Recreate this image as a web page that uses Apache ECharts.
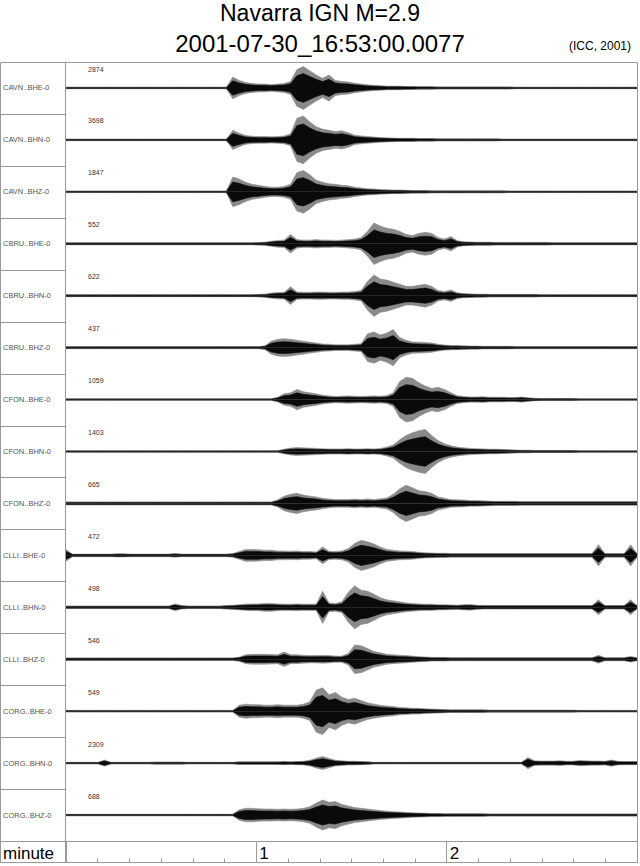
<!DOCTYPE html>
<html><head><meta charset="utf-8">
<script src="https://cdn.jsdelivr.net/npm/echarts@6/dist/echarts.min.js"></script>
<style>html,body{margin:0;padding:0;background:#fff}#c{width:640px;height:866px}</style>
</head><body><div id="c"></div>
<script>
// ---- data ----
const titleText = 'Navarra IGN M=2.9';
const timeText = '2001-07-30_16:53:00.0077';
const creditText = '(ICC, 2001)';
const axisName = 'minute';
const stations = ['CAVN..BHE-0','CAVN..BHN-0','CAVN..BHZ-0','CBRU..BHE-0','CBRU..BHN-0','CBRU..BHZ-0',
  'CFON..BHE-0','CFON..BHN-0','CFON..BHZ-0','CLLI..BHE-0','CLLI..BHN-0','CLLI..BHZ-0',
  'CORG..BHE-0','CORG..BHN-0','CORG..BHZ-0'];
const maxCounts = [2874,3698,1847,552,622,437,1059,1403,665,472,498,546,549,2309,688];
const durationSeconds = 180;     // time axis, seconds (3 minutes)
const minuteTicks = [0,60,120,180];
// envelope half-amplitude per ~2 s bin, in percent of half row deflection
const env_CAVN_BHE = [3,3,3,3,3,3,3,3,3,3, 3,3,3,3,3,3,3,3,3,3, 3,3,3,3,3,3,42,29,21,17,
  15,15,13,15,17,25,71,83,66,50, 37,50,29,25,23,18,15,12,10,9, 7,7,7,6,6,5,5,5,4,4,
  4,4,4,4,4,4,4,4,4,4, 3,3,3,3,3,3,3,3,3,3, 3,3,3,3,3,3,3,3,3,3];
const env_CAVN_BHN = [3,3,3,3,3,3,3,3,3,3, 3,3,3,3,3,3,3,3,3,3, 3,3,3,3,3,3,37,26,17,14,
  13,13,12,13,15,23,83,92,69,51, 41,37,32,35,28,18,15,13,11,9, 8,7,6,6,6,5,5,5,4,4,
  4,4,4,4,4,4,4,4,3,3, 3,3,3,3,3,3,3,3,3,3, 3,3,3,3,3,3,3,3,3,3];
const env_CAVN_BHZ = [3,3,3,3,3,3,3,3,3,3, 3,3,3,3,3,3,3,3,3,3, 3,3,3,3,3,3,57,49,37,29,
  25,21,18,18,21,29,74,82,66,45, 37,31,29,25,23,18,15,12,11,9, 8,7,7,6,5,5,5,4,4,4,
  4,4,4,4,4,4,4,4,4,3, 3,3,3,3,3,3,3,3,3,3, 3,3,3,3,3,3,3,3,3,3];
const env_CBRU_BHE = [4,4,4,4,4,4,4,4,4,4, 4,4,4,4,4,4,4,4,4,4, 4,4,4,4,4,4,4,4,4,4,
  5,6,10,13,14,36,16,14,14,16, 14,14,13,14,16,18,24,48,80,68, 60,56,48,36,32,40,44,40,24,18,
  28,12,8,7,6,6,6,5,5,5, 5,5,5,5,5,5,4,4,4,4, 4,4,4,4,4,4,4,4,4,4];
const env_CBRU_BHN = [4,4,4,4,4,4,4,4,4,4, 4,4,4,4,4,4,4,4,4,4, 4,4,4,4,4,4,4,4,4,4,
  5,6,10,12,13,34,14,13,13,14, 14,13,13,14,14,16,20,56,80,64, 60,52,44,36,36,40,44,36,20,16,
  22,11,8,7,6,6,5,5,5,5, 5,5,5,5,4,4,4,4,4,4, 4,4,4,4,4,4,4,4,4,4];
const env_CBRU_BHZ = [4,4,4,4,4,4,4,4,4,4, 4,4,4,4,4,4,4,4,4,4, 4,4,4,4,4,4,4,4,4,4,
  4,7,25,32,34,32,28,25,21,18, 14,13,11,11,11,13,15,53,60,49, 56,70,39,28,22,21,20,18,13,10,
  8,8,7,6,6,5,5,5,5,5, 4,4,4,4,4,4,4,4,4,4, 4,4,4,4,4,4,4,4,4,4];
const env_CFON_BHE = [3,3,3,3,3,3,3,3,3,3, 3,3,3,3,3,3,3,3,3,3, 3,3,3,3,3,3,3,3,3,3,
  3,3,3,9,22,26,39,30,26,22, 17,14,12,13,14,13,12,13,14,13, 15,26,69,86,82,65,52,43,47,39,
  26,15,12,10,10,11,9,9,9,8, 8,10,7,5,4,4,4,4,4,4, 3,3,3,3,3,3,3,3,3,3];
const env_CFON_BHN = [3,3,3,3,3,3,3,3,3,3, 3,3,3,3,3,3,3,3,3,3, 3,3,3,3,3,3,3,3,3,3,
  3,3,3,3,9,13,15,14,13,12, 11,10,10,10,11,10,10,11,10,12, 17,25,45,62,72,80,85,62,42,30,
  22,17,14,12,11,10,9,9,8,7, 6,5,5,4,4,4,4,4,4,4, 3,3,3,3,3,3,3,3,3,3];
const env_CFON_BHZ = [6,6,6,6,6,6,6,6,6,6, 6,6,6,6,6,6,6,6,6,6, 6,6,6,6,6,6,6,6,6,6,
  6,6,6,14,28,35,39,32,28,25, 20,17,15,15,15,17,15,17,15,18, 21,35,56,70,60,49,46,39,25,20,
  15,14,13,11,11,10,9,8,8,8, 8,7,7,7,7,7,7,7,7,7, 7,7,7,7,7,7,7,7,7,7];
const env_CLLI_BHE = [23,5,5,5,5,5,5,5,6,6, 5,5,5,5,5,5,5,7,5,5, 5,5,5,5,5,5,7,15,23,23,
  22,20,20,17,17,16,17,15,15,13, 32,16,15,17,26,46,58,52,44,32, 23,20,17,16,15,12,10,9,8,8,
  7,7,7,7,7,7,7,7,7,7, 7,7,7,7,7,7,7,7,7,7, 7,7,7,41,7,7,7,7,41,7];
const env_CLLI_BHN = [5,5,5,5,5,5,5,5,5,5, 5,5,5,5,5,5,5,13,7,5, 5,5,5,5,5,7,8,10,12,13,
  13,15,15,13,12,12,13,12,12,12, 62,17,15,21,58,83,66,62,50,37, 29,25,21,17,15,13,12,12,10,10,
  9,8,10,11,8,7,7,7,7,7, 7,7,7,7,7,7,7,7,7,7, 7,7,7,29,7,7,7,7,29,7];
const env_CLLI_BHZ = [5,5,5,5,5,5,5,5,5,5, 5,5,5,5,5,5,5,5,5,5, 5,5,5,5,5,5,5,8,17,19,
  19,19,18,17,28,17,17,15,14,14, 15,14,12,12,22,55,52,41,30,25, 19,17,15,14,12,10,9,7,7,7,
  6,6,6,6,6,6,6,6,6,6, 6,6,6,6,6,6,6,6,6,6, 6,6,6,15,6,6,6,6,11,6];
const env_CORG_BHE = [3,3,3,3,3,3,3,3,3,3, 3,3,3,3,3,3,3,3,3,3, 3,3,3,3,3,3,3,23,27,25,
  25,23,23,25,23,23,23,27,36,81, 90,63,72,54,45,50,41,32,27,23, 20,18,14,13,11,11,9,8,7,6,
  5,5,5,5,5,5,4,4,4,4, 4,4,4,4,4,4,4,4,4,4, 3,3,3,3,3,3,3,3,3,3];
const env_CORG_BHN = [3,3,3,3,3,3,12,3,3,3, 3,3,3,3,4,4,4,4,4,3, 3,3,3,3,3,3,3,5,5,5,
  5,5,5,5,6,5,6,7,11,19, 25,18,11,9,7,7,6,5,3,3, 3,3,3,3,3,3,3,3,3,3,
  3,3,3,3,3,3,3,3,3,3, 3,3,22,9,8,8,8,9,7,7, 10,9,8,8,7,12,7,6,6,6];
const env_CORG_BHZ = [3,3,3,3,3,3,3,3,3,3, 3,3,3,3,3,3,3,3,3,3, 3,3,3,3,3,3,3,20,26,26,
  24,23,23,22,23,22,23,26,32,46, 58,49,52,41,35,29,26,23,20,17, 15,13,12,10,9,8,7,6,6,5,
  5,5,5,5,5,5,4,4,4,4, 4,4,4,4,4,4,4,4,4,4, 4,4,4,4,4,4,4,4,4,4];
const traces = [env_CAVN_BHE, env_CAVN_BHN, env_CAVN_BHZ, env_CBRU_BHE, env_CBRU_BHN, env_CBRU_BHZ,
  env_CFON_BHE, env_CFON_BHN, env_CFON_BHZ, env_CLLI_BHE, env_CLLI_BHN, env_CLLI_BHZ,
  env_CORG_BHE, env_CORG_BHN, env_CORG_BHZ];

// ---- layout ----
const FONT = '"Liberation Sans", Arial, Helvetica, sans-serif';
const TOP = 62, BOTTOM_ROW = 841, RH = (BOTTOM_ROW - TOP) / stations.length;
const PL = 66, PW = 571;
const FRAME = '#9a9a9a';

const grids = [], xAxes = [], yAxes = [], series = [], graphic = [];
traces.forEach((env, i) => {
  grids.push({left: PL, width: PW, top: TOP + i * RH, height: RH});
  xAxes.push({gridIndex: i, type: 'value', min: 0, max: durationSeconds, show: false});
  yAxes.push({gridIndex: i, type: 'value', min: -100, max: 100, show: false});
  yAxes.push({gridIndex: i, type: 'value', min: -150, max: 150, show: false});
  const n = env.length;
  const up = env.map((a, k) => [k * durationSeconds / (n - 1), a]);
  const dn = env.map((a, k) => [k * durationSeconds / (n - 1), -a]);
  [[2 * i, '#8a8a8a'], [2 * i + 1, '#0a0a0a']].forEach(([yi, col]) => {
    [up, dn].forEach(d => series.push({
      type: 'line', xAxisIndex: i, yAxisIndex: yi, data: d, symbol: 'none', silent: true,
      lineStyle: {width: 0.6, color: col}, areaStyle: {color: col, opacity: 1, origin: 0}
    }));
  });
  const yTop = TOP + i * RH;
  graphic.push({type: 'text', x: 3, y: yTop + RH / 2, silent: true,
    style: {text: stations[i], fontSize: 7.5, fontFamily: FONT, fill: '#555', verticalAlign: 'middle'}});
  graphic.push({type: 'text', x: 88, y: yTop + 7, silent: true,
    style: {text: String(maxCounts[i]), fontSize: 7, fontFamily: FONT, fill: '#333', verticalAlign: 'middle'}});
  if (i > 0) graphic.push({type: 'line', silent: true,
    shape: {x1: 0, y1: Math.round(yTop) + 0.5, x2: PL, y2: Math.round(yTop) + 0.5}, style: {stroke: FRAME, lineWidth: 1}});
});
// bottom time axis
const gi = stations.length;
grids.push({left: PL, width: PW, top: BOTTOM_ROW + 0.5, height: 21});
yAxes.push({gridIndex: gi, type: 'value', min: 0, max: 1, show: false});
xAxes.push({gridIndex: gi, type: 'value', min: 0, max: durationSeconds, interval: 10, position: 'bottom',
  axisLine: {show: true, lineStyle: {color: FRAME, width: 1}},
  axisTick: {show: true, inside: true, length: 4, lineStyle: {color: FRAME}},
  axisLabel: {show: false}, splitLine: {show: false}});
xAxes.push({gridIndex: gi, type: 'value', min: 0, max: durationSeconds, interval: 60, position: 'bottom',
  axisLine: {show: false}, axisTick: {show: false},
  splitLine: {show: true, lineStyle: {color: FRAME, width: 1}},
  axisLabel: {show: true, inside: true, align: 'left', verticalAlign: 'bottom', margin: 1, padding: [0, 0, 0, 3],
    fontSize: 17, fontFamily: FONT, color: '#000',
    formatter: v => (minuteTicks.indexOf(v) > 0 && v < durationSeconds) ? String(v / 60) : ''}});

graphic.push({type: 'rect', silent: true, shape: {x: 0.5, y: TOP + 0.5, width: 637, height: 800},
  style: {fill: 'none', stroke: FRAME, lineWidth: 1}});
graphic.push({type: 'line', silent: true, shape: {x1: 65.5, y1: TOP, x2: 65.5, y2: 862}, style: {stroke: FRAME, lineWidth: 1}});
graphic.push({type: 'line', silent: true, shape: {x1: 0, y1: BOTTOM_ROW + 0.5, x2: 638, y2: BOTTOM_ROW + 0.5}, style: {stroke: FRAME, lineWidth: 1}});
graphic.push({type: 'text', x: 3, y: 853, silent: true,
  style: {text: axisName, fontSize: 17, fontFamily: FONT, fill: '#000', verticalAlign: 'middle'}});

const chart = echarts.init(document.getElementById('c'), null, {renderer: 'svg'});
chart.setOption({
  animation: false,
  backgroundColor: '#fff',
  title: [
    {text: titleText, left: 'center', top: 1, padding: 0, textStyle: {fontSize: 23, fontWeight: 'normal', fontFamily: FONT, color: '#000'}},
    {text: timeText, left: 'center', top: 31, padding: 0, textStyle: {fontSize: 24, fontWeight: 'normal', fontFamily: FONT, color: '#000'}},
    {text: creditText, right: 9, top: 40, padding: 0, textStyle: {fontSize: 12, fontWeight: 'normal', fontFamily: FONT, color: '#000'}}
  ],
  grid: grids, xAxis: xAxes, yAxis: yAxes, series: series, graphic: graphic
});
</script></body></html>
